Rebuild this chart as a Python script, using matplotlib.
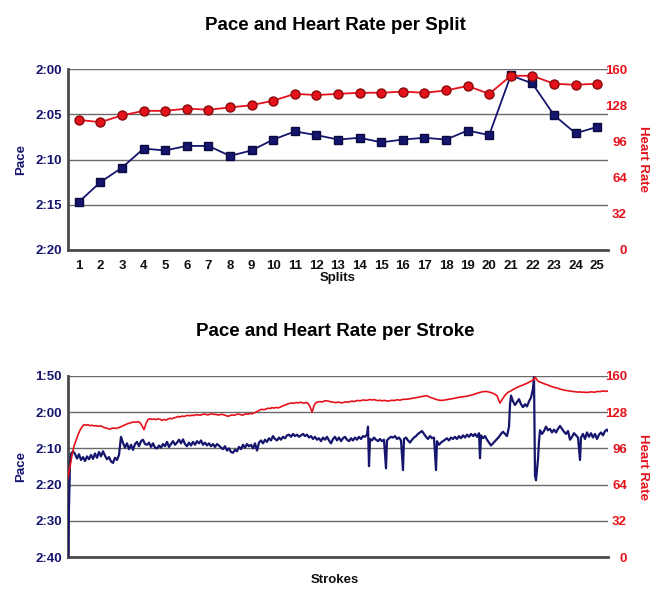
import matplotlib
matplotlib.use("Agg")
import matplotlib.pyplot as plt
from matplotlib.ticker import FixedLocator

# ---------------- data ----------------
splits = list(range(1, 26))
split_pace = [134.7, 132.5, 130.9, 128.8, 129.0, 128.5, 128.5, 129.6, 129.0, 127.8,
              126.9, 127.3, 127.8, 127.6, 128.1, 127.8, 127.6, 127.8, 126.8, 127.3,
              120.7, 121.6, 125.1, 127.1, 126.4]
split_hr = [115, 113, 119, 123, 123, 125, 124, 126, 128, 132,
            138, 137, 138, 139, 139, 140, 139, 141, 145, 138,
            154, 154, 147, 146, 147]

stroke_pace_x = [0, 1, 2, 3, 5, 7, 9, 11, 13, 15, 17, 19, 21, 23, 25, 27, 29, 31, 33, 35, 37, 39, 41, 43, 45, 47, 49, 51,
                 53, 55, 57, 59, 61, 63, 65, 67, 69, 71, 73, 75, 77, 79, 81, 83, 85, 87, 89, 91, 93, 95, 97, 99,
                 101, 103, 105, 107, 109, 111, 113, 115, 117, 119, 121, 123, 125, 127, 129, 131, 133, 135, 137, 139,
                 141, 143, 145, 147, 149, 151, 153, 155, 157, 159, 161, 163, 165, 167, 169, 171, 173, 175, 177, 179,
                 181, 183, 185, 187, 189, 191, 193, 195, 197, 199, 201, 203, 205, 207, 209, 211, 213, 215, 217, 219,
                 221, 223, 225, 227, 229, 231, 233, 235, 237, 239, 241, 243, 245, 247, 249, 251, 253, 255, 257, 259,
                 261, 263, 265, 267, 269, 271, 273, 275, 277, 279, 281, 283, 285, 287, 289, 291, 293, 295, 297, 299,
                 300, 301, 302, 304, 306, 308, 310, 312, 314, 316, 318, 319, 321, 323, 325, 327, 329, 331, 333, 335,
                 336, 338, 340, 342, 344, 346, 348, 350, 352, 354, 356, 358, 360, 362, 364, 366, 368, 369, 371, 373,
                 375, 377, 379, 381, 383, 385, 387, 389, 391, 393, 395, 397, 399, 401, 403, 405, 407, 409, 411, 412,
                 413, 415, 417, 419, 421, 423, 425, 427, 429, 431, 433, 435, 437, 439, 441, 442, 443, 445, 447, 449,
                 451, 453, 455, 457, 459, 461, 463, 465, 466, 467, 468, 469, 470, 471, 472, 474, 476, 478, 480, 482,
                 484, 486, 488, 490, 492, 494, 496, 498, 500, 502, 504, 506, 508, 510, 512, 513, 515, 517, 519, 521,
                 523, 525, 527, 529, 531, 533, 535, 537, 539, 540]
stroke_pace = [160, 146, 134, 131.5, 130.8, 131.5, 132.8, 131.6, 133.2, 132.4, 133.5, 132.2, 133.0, 131.8, 132.9, 131.4,
               132.6, 131.0, 132.2, 130.8, 132.0, 133.0, 132.4, 133.6, 134.0, 132.6, 133.2, 131.8,
               126.8, 128.5, 129.8, 128.6, 130.2, 129.0, 130.4, 128.8, 128.2, 129.4, 128.0, 127.6, 128.8, 129.0,
               128.4, 129.6, 128.6, 129.8, 130.0, 129.2, 129.8, 128.8, 129.4, 128.2,
               129.6, 128.8, 128.0, 129.0, 128.4, 127.6, 128.6, 127.5, 128.8, 129.4, 128.4, 129.2, 128.2, 129.0,
               128.0, 128.6, 127.8, 129.0, 128.4, 129.2,
               128.6, 129.4, 128.8, 129.6, 128.8, 129.2, 129.8, 130.2, 129.4, 130.6, 130.0, 131.0, 131.2, 130.4,
               130.8, 129.6, 130.2, 129.0, 129.8, 128.8,
               129.4, 129.0, 130.0, 128.6, 130.6, 128.4, 127.8, 128.6, 127.6, 128.2, 127.2, 127.8, 126.6, 127.4,
               127.8, 127.0, 127.6, 126.8, 127.2, 126.4,
               126.2, 126.8, 126.0, 126.6, 126.2, 126.8, 126.4, 126.0, 126.6, 126.2, 127.0, 126.6, 127.4, 126.8,
               127.6, 127.2, 128.0, 127.0, 127.6, 126.8,
               127.8, 128.6, 127.4, 126.8, 127.8, 127.0, 128.0, 127.2, 126.8, 127.6, 128.0, 127.2, 127.8, 127.0,
               127.6, 126.8, 127.4, 126.6, 126.8, 126.2,
               124.0, 134.9, 127.4, 127.8, 127.0, 127.6, 128.0, 127.4, 128.0, 127.6, 135.5, 127.8, 127.2, 126.8,
               127.0, 126.6, 127.4, 127.0, 127.8, 136.0,
               127.4, 127.0, 127.8, 128.4, 127.6, 127.0, 126.6, 126.0, 125.6, 125.2, 126.0, 126.8, 127.4, 126.6,
               127.2, 127.0, 136.0, 128.0, 129.0, 128.4,
               128.0, 127.6, 127.2, 127.8, 127.0, 127.4, 126.8, 127.4, 126.6, 127.2, 126.4, 127.0, 126.2, 126.8,
               126.0, 126.6, 126.0, 126.8, 125.8, 132.7,
               126.4, 127.2, 126.6, 127.6, 128.4, 129.2, 128.6, 128.0, 127.4, 126.8, 126.0, 125.4, 126.0, 126.6,
               124.0, 118.0, 115.4, 117.0, 118.0, 117.2,
               116.4, 117.8, 118.6, 117.8, 118.4, 117.0, 116.0, 113.5, 110.3, 137.5, 138.8, 136.0, 133.0, 128.0,
               125.0, 126.0, 125.2, 124.0, 125.0, 124.6,
               125.6, 124.8, 125.6, 124.6, 123.8, 124.6, 125.4, 126.0, 125.2, 127.6, 126.8, 125.8, 126.4, 127.0,
               133.2, 127.0, 126.0, 127.4, 125.6, 126.8,
               125.8, 127.0, 126.0, 127.4, 126.2, 125.6, 126.4, 125.2, 124.8, 125.2]

stroke_hr_x = [0, 2, 4, 6, 8, 10, 12, 14, 16, 18, 20, 22, 24, 26, 28, 30, 32, 34, 36, 38, 40, 42, 44, 46, 48, 50,
               52, 54, 56, 58, 60, 62, 64, 66, 68, 70, 72, 74, 76, 77, 78, 80, 82, 84, 86, 88, 90, 92, 94, 96, 98,
               100, 102, 104, 106, 108, 110, 112, 114, 116, 118, 120, 122, 124, 126, 128, 130, 132, 134, 136, 138,
               140, 142, 144, 146, 148, 150, 152, 154, 156, 158, 160, 162, 164, 166, 168, 170, 172, 174, 176, 178,
               180, 182, 184, 186, 188, 190, 192, 194, 196, 198, 200, 202, 204, 206, 208, 210, 212, 214, 216, 218,
               220, 222, 224, 226, 228, 230, 232, 234, 236, 238, 240, 242, 244, 245, 246, 248, 250, 252, 254, 256,
               258, 260, 262, 264, 266, 268, 270, 272, 274, 276, 278, 280, 282, 284, 286, 288, 290, 292, 294, 296,
               298, 300, 302, 304, 306, 308, 310, 312, 314, 316, 318, 320, 322, 324, 326, 328, 330, 332, 334, 336,
               340, 344, 348, 352, 356, 359, 362, 366, 370, 374, 378, 382, 386, 390, 394, 398, 402, 406, 410, 414,
               418, 422, 426, 429, 431, 432, 434, 437, 440, 442, 445, 448, 452, 456, 460, 463, 466, 467, 468, 470,
               472, 474, 476, 478, 480, 482, 484, 486, 488, 490, 492, 494, 496, 498, 500, 502, 504, 506, 508, 510,
               512, 514, 516, 518, 520, 522, 524, 526, 528, 530, 532, 534, 536, 538, 540]
stroke_hr = [70, 80, 90, 98, 103, 108, 112, 115, 117, 116.5, 117, 116, 116.5, 115.8, 116.2, 115.5, 116, 115.4, 114.5,
             114, 113.5, 113, 113.8, 114, 113.6, 114.2,
             114.8, 115.6, 116.4, 117.2, 118, 118.4, 119, 119.4, 119.2, 119.6, 118.8, 116, 112.5, 115, 118, 121.5,
             122.2, 121.6, 122, 121.4, 122.2, 121.8, 120.8, 121.6, 121,
             122, 122.6, 122.2, 123, 123.4, 124.2, 123.8, 124.6, 124.2, 124.8, 125.2, 124.8, 125.4, 125, 125.8,
             125.6, 125.4, 125.8, 126.4, 126,
             125.6, 126.2, 126.6, 126, 126.2, 125.4, 125.8, 126.2, 125.6, 125, 124.4, 125, 125.6, 125.2, 125.8,
             126.4, 126, 125.4, 125.8, 126.6,
             126.2, 127, 126.6, 127.4, 128, 129, 130, 130.6, 130.2, 130.8, 131.6, 131.2, 132, 131.6, 132.2, 131.8,
             132.4, 133.2, 134, 134.6,
             135.4, 135.8, 136.2, 135.8, 136.6, 136.2, 136.8, 136.4, 136, 136.6, 135.8, 133, 128, 130.5, 134, 136.6,
             137, 137.4, 137, 137.8,
             138.2, 137.8, 137.4, 137, 136.8, 136.4, 137, 136.6, 136.2, 136.8, 137.2, 136.8, 137.4, 137.8, 137.4,
             138, 138.4, 138, 138.6, 138.8,
             138.4, 138.8, 139.2, 138.8, 139.2, 138.6, 138.2, 138.6, 138, 138.4, 138.2, 137.8, 138.2, 138.6, 138.2,
             138.8, 139, 138.6, 139.2, 139.4,
             139.6, 140.2, 140.8, 141.6, 142.2, 142.6, 141.2, 140, 138.8, 138.4, 139, 139.6, 140.2, 141, 141.6, 142,
             142.8, 143.8, 145, 146,
             146.4, 145.6, 144.4, 142.5, 138, 136, 139, 143, 145.6, 146.4, 148, 149.4, 151, 152.4, 154, 155.4, 157,
             159, 158, 155.4,
             154.6, 154, 153.2, 152.6, 152, 151.2, 150.6, 150, 149.6, 149.2, 148.4, 148, 147.6, 147.2, 147, 146.6,
             146.4, 146.2, 146, 145.8,
             146, 145.6, 145.8, 145.4, 145.6, 145.8, 146, 145.6, 146, 146.4, 146.2, 146.6, 146.8, 146.4, 146.8]

top_pace_ticks = [120, 125, 130, 135, 140]
top_pace_labels = ["2:00", "2:05", "2:10", "2:15", "2:20"]
bot_pace_ticks = [110, 120, 130, 140, 150, 160]
bot_pace_labels = ["1:50", "2:00", "2:10", "2:20", "2:30", "2:40"]
hr_ticks = [0, 32, 64, 96, 128, 160]

# ---------------- style ----------------
FONT = "Liberation Sans"
NAVY = "#15156e"
RED = "#e5121b"
GRID = "#6a6a6a"
SPINE = "#4a4a4a"

fig = plt.figure(figsize=(6.7, 6.06), dpi=100)
W, H = 670.0, 606.0


def make_axes(top_px, bottom_px):
    return fig.add_axes([68 / W, (H - bottom_px) / H, 540 / W, (bottom_px - top_px) / H])


def style_axes(ax, ticks, labels, ylo, yhi):
    ax.set_ylim(yhi, ylo)  # inverted: faster pace at top
    ax.yaxis.set_major_locator(FixedLocator(ticks))
    ax.set_yticklabels(labels, fontfamily=FONT, fontweight="bold", fontsize=9.5, color=NAVY)
    ax.grid(axis="y", color=GRID, linewidth=1.0)
    ax.set_axisbelow(True)
    for s in ("top", "right"):
        ax.spines[s].set_visible(False)
    for s in ("left", "bottom"):
        ax.spines[s].set_color(SPINE)
        ax.spines[s].set_linewidth(2.0)
    ax.tick_params(axis="y", length=0, pad=4.5)
    ax.tick_params(axis="x", length=0)
    ax.set_ylabel("Pace", fontfamily=FONT, fontweight="bold", fontsize=9.5, color=NAVY)
    ax.yaxis.set_label_coords(-41 / 540, 0.5)


def style_twin(ax2):
    ax2.set_ylim(0, 160)
    ax2.yaxis.set_major_locator(FixedLocator(hr_ticks))
    ax2.set_yticklabels([str(t) for t in hr_ticks], fontfamily=FONT, fontweight="bold", fontsize=9.5,
                        color=RED, ha="right")
    ax2.tick_params(axis="y", length=0, pad=13.7)
    for s in ax2.spines.values():
        s.set_visible(False)
    ax2.set_ylabel("Heart Rate", fontfamily=FONT, fontweight="bold", fontsize=9.5, color=RED,
                   rotation=-90, va="center")
    ax2.yaxis.set_label_coords(575 / 540, 0.5)


# ---------------- top chart ----------------
ax1 = make_axes(69, 250)
style_axes(ax1, top_pace_ticks, top_pace_labels, 120, 140)
ax1.plot(splits, split_pace, color=NAVY, linewidth=1.3, marker="s", markersize=6,
         markerfacecolor=NAVY, markeredgecolor="#0a0a40", zorder=3)
ax1.set_xlim(0.5, 25.5)
ax1.set_xticks(splits)
ax1.set_xticklabels([str(s) for s in splits], fontfamily=FONT, fontweight="bold", fontsize=9.5, color="#111111")
ax1.tick_params(axis="x", pad=7)
ax1b = ax1.twinx()
style_twin(ax1b)
ax1b.plot(splits, split_hr, color=RED, linewidth=1.3, marker="o", markersize=6.5,
          markerfacecolor=RED, markeredgecolor="#8a0a0a", zorder=3)
fig.text(335 / W, 1 - 25 / H, "Pace and Heart Rate per Split", ha="center", va="center",
         fontfamily=FONT, fontweight="bold", fontsize=13.5, color="#000000")
fig.text(338 / W, 1 - 278 / H, "Splits", ha="center", va="center",
         fontfamily=FONT, fontweight="bold", fontsize=9.5, color="#111111")

# ---------------- bottom chart ----------------
ax2 = make_axes(376, 557)
style_axes(ax2, bot_pace_ticks, bot_pace_labels, 110, 160)
ax2.plot(stroke_pace_x, stroke_pace, color=NAVY, linewidth=1.6, zorder=3)
ax2.set_xlim(0, 540)
ax2.set_xticks([])
ax2b = ax2.twinx()
style_twin(ax2b)
ax2b.plot(stroke_hr_x, stroke_hr, color=RED, linewidth=1.2, zorder=3)
fig.text(335 / W, 1 - 332 / H, "Pace and Heart Rate per Stroke", ha="center", va="center",
         fontfamily=FONT, fontweight="bold", fontsize=13.5, color="#000000")
fig.text(335 / W, 1 - 580 / H, "Strokes", ha="center", va="center",
         fontfamily=FONT, fontweight="bold", fontsize=9.5, color="#111111")

fig.savefig("out.png", dpi=100, facecolor="white")
